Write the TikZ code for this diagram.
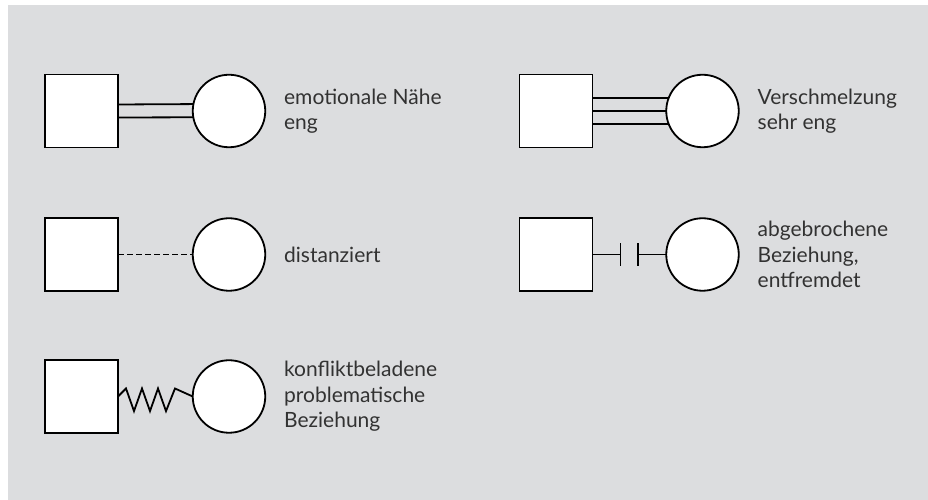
\documentclass[tikz,border=0pt]{standalone}
\usepackage{fontspec}
\setmainfont{Lato}
\usepackage{xcolor}
\usetikzlibrary{positioning}
\definecolor{bggray}{RGB}{220,221,223}
\definecolor{txtgray}{RGB}{50,50,50}

\begin{document}
\begin{tikzpicture}[x=1pt, y=1pt, line width=1.8pt,
    mann/.style = {shape=rectangle, draw, fill=white,
      minimum size=73, inner sep=0, outer sep=0},
    frau/.style = {shape=circle, draw, fill=white,
      minimum size=72.5, inner sep=0, outer sep=0},
    txt/.style = {align=left, inner sep=0, text=txtgray,
      font=\fontsize{21}{25.5}\selectfont}]
    \useasboundingbox (0,0) rectangle (928,500);
    \fill[bggray] (8,0) rectangle (928,495);
    % left column
    \node[mann] (m1) at (81.5,389) {};
    \node[frau] (f1) at (229,389) {};
    \node[mann] (m2) at (81.5,245.5) {};
    \node[frau] (f2) at (229,245.5) {};
    \node[mann] (m3) at (81.5,103.5) {};
    \node[frau] (f3) at (229,103.5) {};
    % right column
    \node[mann] (m4) at (556,389) {};
    \node[frau] (f4) at (702.5,389) {};
    \node[mann] (m5) at (556,245.5) {};
    \node[frau] (f5) at (702.5,245.5) {};
    % labels
    \node[txt, right=18 of f1] (t1) {emotionale Nähe\\eng};
    \node[txt, right=18 of f2] (t2) {distanziert};
    \node[txt, right=18 of f3] (t3) {konfliktbeladene\\problematische\\Beziehung};
    \node[txt, right=18 of f4] (t4) {Verschmelzung\\sehr eng};
    \node[txt, right=18 of f5] (t5) {abgebrochene\\Beziehung,\\entfremdet};
    % eng
    \draw ([yshift=6.5]m1.east) -- (f1.169.7);
    \draw ([yshift=-6.5]m1.east) -- (f1.190.3);
    % sehr eng
    \draw ([yshift=13]m4.east) -- (f4.159);
    \draw (m4.east) -- (f4.west);
    \draw ([yshift=-13]m4.east) -- (f4.201);
    % distanziert
    \draw[dash pattern=on 6pt off 3pt] (m2.east) -- (f2.west);
    % abgebrochen
    \draw (m5.east) -- ++(28,0) coordinate (s1) ++(0,-11.5) -- ++(0,23);
    \draw (f5.west) -- ++(-28,0) coordinate (s2) ++(0,-11.5) -- ++(0,23);
    % konflikt
    \draw[line join=miter] (m3.east) -- ++(8,8) -- ++(8,-22.6) -- ++(8,22.6)
        -- ++(8,-22.6) -- ++(8,22.6) -- ++(8,-22.6) -- ++(9,22.6) -- (f3.west);
\end{tikzpicture}
\end{document}
